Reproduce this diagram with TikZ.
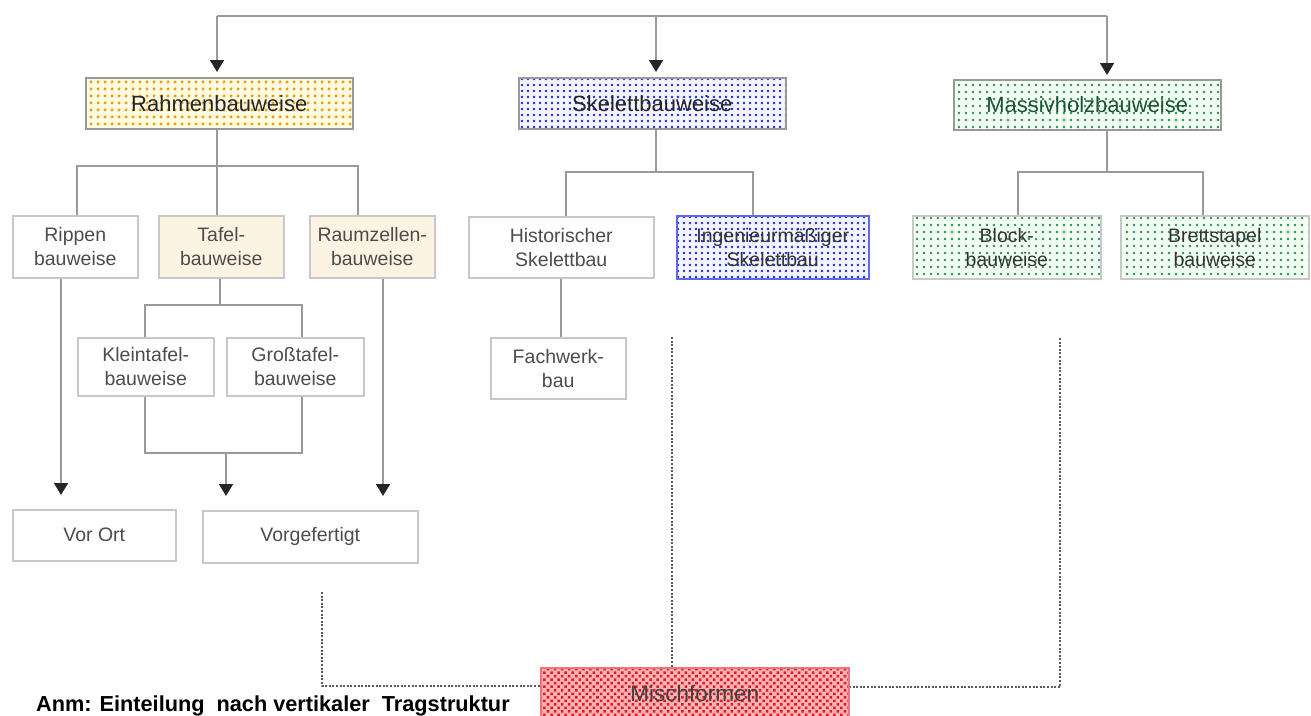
\documentclass[tikz,border=0pt]{standalone}
\usepackage{fontspec}
\setmainfont{Liberation Sans}
\usetikzlibrary{patterns.meta,arrows.meta}
\definecolor{lineg}{HTML}{9A9A9A}
\definecolor{boxg}{HTML}{C8C8C8}
\definecolor{cream}{HTML}{FDF3E2}
\definecolor{orangep}{HTML}{F09A20}
\definecolor{bluep}{HTML}{1828E8}
\definecolor{greenp}{HTML}{2E8A5C}
\definecolor{redp}{HTML}{E01828}
\begin{document}
\begin{tikzpicture}[x=1pt,y=-1pt,
  conn/.style={draw=lineg,line width=1.6pt},
  arr/.style={conn,-{Triangle[width=14pt,length=12pt,color=black!85]}},
  mixline/.style={draw=black!65,line width=1.8pt,dash pattern=on 2pt off 1.6pt},
  box/.style={draw=boxg,line width=1.5pt,anchor=north west,align=center,inner sep=0pt,
    text=black!70,font=\fontsize{19.5}{24}\selectfont},
  head/.style={box,draw=black!40,text=black!85,font=\fontsize{22}{24}\selectfont},
  rahmenfill/.style={preaction={fill=yellow!12},pattern={Dots[distance=6.5pt,radius=1.8pt]},pattern color=orangep},
  creamfill/.style={fill=cream},
  bluefill/.style={preaction={fill=blue!4},pattern={Dots[distance=6pt,radius=1.4pt]},pattern color=bluep},
  greenfill/.style={preaction={fill=green!5},pattern={Dots[distance=7pt,radius=1.3pt]},pattern color=greenp},
  redfill/.style={preaction={fill=red!30},pattern={Dots[distance=5pt,radius=1.8pt,angle=45]},pattern color=redp}
]
\useasboundingbox[fill=white] (0,0) rectangle (1311,715);

% ---- top level boxes
\node[head,rahmenfill,minimum width=267pt,minimum height=51pt] (rahmen) at (85,77) {Rahmenbauweise};
\node[head,bluefill,minimum width=267pt,minimum height=51pt] (skelett) at (518,77) {Skelettbauweise};
\node[head,greenfill,text=greenp!60!black,minimum width=267pt,minimum height=50pt] (massiv) at (953,79) {Massivholzbauweise};

% ---- second level
\node[box,minimum width=125pt,minimum height=62pt] (rippen) at (12,215) {Rippen\\bauweise};
\node[box,creamfill,minimum width=125pt,minimum height=62pt] (tafel) at (158,215) {Tafel-\\bauweise};
\node[box,creamfill,minimum width=125pt,minimum height=62pt] (raumz) at (309,215) {Raumzellen-\\bauweise};
\node[box,minimum width=185pt,minimum height=61pt] (hist) at (468,216) {Historischer\\Skelettbau};
\node[box,bluefill,draw=bluep!70,text=black!80,minimum width=192pt,minimum height=63pt] (ingen) at (676,215) {Ingenieurmäßiger\\Skelettbau};
\node[box,greenfill,text=black!80,minimum width=188pt,minimum height=63pt] (block) at (912,215) {Block-\\bauweise};
\node[box,greenfill,text=black!80,minimum width=188pt,minimum height=63pt] (brett) at (1120,215) {Brettstapel\\bauweise};

% ---- third level
\node[box,minimum width=136pt,minimum height=58pt] (klein) at (77,337) {Kleintafel-\\bauweise};
\node[box,minimum width=137pt,minimum height=58pt] (gross) at (226,337) {Großtafel-\\bauweise};
\node[box,minimum width=135pt,minimum height=61pt] (fachwerk) at (490,337) {Fachwerk-\\bau};

% ---- bottom boxes
\node[box,minimum width=163pt,minimum height=51pt] (vorort) at (12,509) {Vor Ort};
\node[box,minimum width=215pt,minimum height=52pt] (vorgef) at (202,510) {Vorgefertigt};
\node[box,redfill,draw=redp!60,text=black!75,minimum width=308pt,minimum height=52pt,font=\fontsize{22.5}{24}\selectfont] (misch) at (540,667) {Mischformen};

\node[anchor=base west,inner sep=0pt,font=\fontsize{21.7}{22}\selectfont\bfseries] (anm) at (36,711) {Anm: Einteilung\ \ nach vertikaler\ \ Tragstruktur};

% ---- coordinates
\coordinate (t1) at (217,16);
\coordinate (t2) at (656,16);
\coordinate (t3) at (1107,16);
\coordinate (rbar) at (217,166);
\coordinate (rbarL) at (77,166);
\coordinate (rbarR) at (358,166);
\coordinate (xr) at (61,0);
\coordinate (xz) at (383,0);
\coordinate (tbar) at (220,305);
\coordinate (tbarL) at (145,305);
\coordinate (tbarR) at (302,305);
\coordinate (ubarL) at (145,453);
\coordinate (ubarR) at (302,453);
\coordinate (ubarM) at (226,453);
\coordinate (sbar) at (656,172);
\coordinate (sbarL) at (566,172);
\coordinate (sbarR) at (753,172);
\coordinate (xh) at (561,0);
\coordinate (mbar) at (1107,172);
\coordinate (mbarL) at (1018,172);
\coordinate (mbarR) at (1203,172);
\coordinate (d1) at (672,337);
\coordinate (d2) at (1060,338);
\coordinate (d2c) at (1060,687);
\coordinate (d3) at (322,592);
\coordinate (d3c) at (322,686);

% ---- top distribution
\draw[conn] (t1) -- (t3);
\draw[arr,shorten >=5pt] (t1) -- (t1 |- rahmen.north);
\draw[arr,shorten >=5pt] (t2) -- (t2 |- skelett.north);
\draw[arr,shorten >=4pt] (t3) -- (t3 |- massiv.north);

% ---- Rahmenbauweise
\draw[conn] (rbar |- rahmen.south) -- (rbar);
\draw[conn] (rbarL |- rippen.north) -- (rbarL) -- (rbarR) -- (rbarR |- raumz.north);
\draw[conn] (rbar) -- (rbar |- tafel.north);
\draw[arr,shorten >=14pt] (xr |- rippen.south) -- (xr |- vorort.north);
\draw[arr,shorten >=14pt] (xz |- raumz.south) -- (xz |- vorgef.north);
\draw[conn] (tbar |- tafel.south) -- (tbar);
\draw[conn] (tbarL |- klein.north) -- (tbarL) -- (tbarR) -- (tbarR |- gross.north);
\draw[conn] (ubarL |- klein.south) -- (ubarL) -- (ubarR) -- (ubarR |- gross.south);
\draw[arr,shorten >=14pt] (ubarM) -- (ubarM |- vorgef.north);

% ---- Skelettbauweise
\draw[conn] (sbar |- skelett.south) -- (sbar);
\draw[conn] (sbarL |- hist.north) -- (sbarL) -- (sbarR) -- (sbarR |- ingen.north);
\draw[conn] (xh |- hist.south) -- (xh |- fachwerk.north);

% ---- Massivholzbauweise
\draw[conn] (mbar |- massiv.south) -- (mbar);
\draw[conn] (mbarL |- block.north) -- (mbarL) -- (mbarR) -- (mbarR |- brett.north);

% ---- Mischformen
\draw[mixline] (d1) -- (d1 |- misch.north);
\draw[mixline] (d2) -- (d2c) -- (d2c -| misch.east);
\draw[mixline] (d3) -- (d3c) -- (d3c -| misch.west);
\end{tikzpicture}
\end{document}
